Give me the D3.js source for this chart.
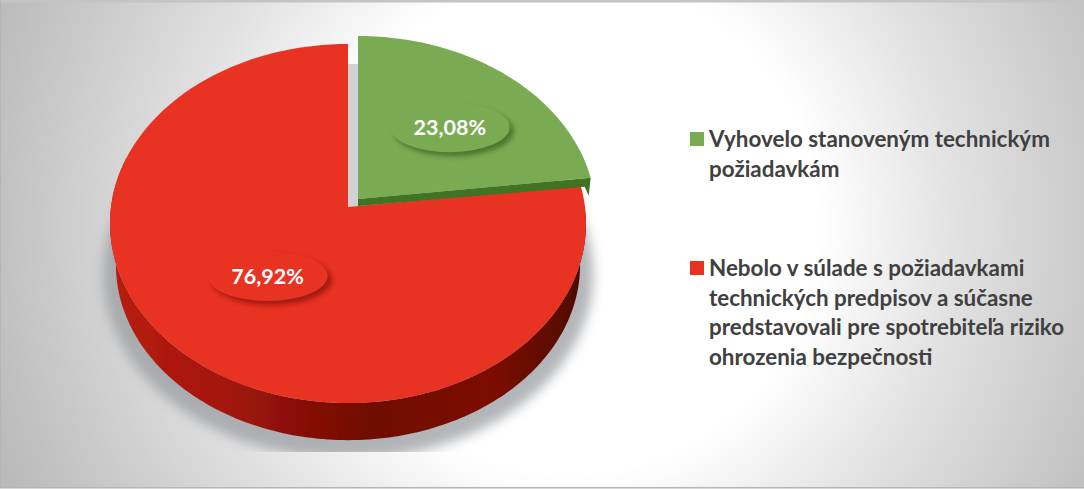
<html>
  <head>
    <meta charset="utf-8">
    <title>Pie</title>
    <script src="https://cdn.jsdelivr.net/npm/d3@7"></script>
    <style>
      body { margin: 0; background: #fff; }
      text { font-family: Lato, "Open Sans", sans-serif; font-weight: 700; }
    </style>
  </head>
  <body>
    <svg width="1084" height="490" id="mainsvg" style="display:block"></svg>
    <script>
        // data
        const categories = ['Vyhovelo', 'Nebolo'];
        const values = [23.08, 76.92];
        const valueLabels = ['23,08%', '76,92%'];
        const legendLines = [
            ['Vyhovelo stanoveným technickým', 'požiadavkám'],
            ['Nebolo v súlade s požiadavkami', 'technických predpisov a súčasne', 'predstavovali pre spotrebiteľa riziko', 'ohrozenia bezpečnosti']
        ];

        const svg = d3.select('#mainsvg');
        const width = +svg.attr('width');
        const height = +svg.attr('height');

        const topColor = d3.scaleOrdinal().domain(categories).range(['#7aab52', '#e83222']);

        // perspective tilt of the pie
        const rx = 237, ry = 178, persp = 0.092;
        const apex = { Vyhovelo: [358, 199], Nebolo: [348, 207] };
        const labelPos = { Vyhovelo: 0.56, Nebolo: 0.5 };
        const labelNudge = { Vyhovelo: 7, Nebolo: 1 };

        // angle is measured clockwise from 12 o'clock, r is 0..1
        const project = function(a, r, c, shrink = 1, dy = 0){
            const u = Math.sin(a) * r, v = Math.cos(a) * r;
            const s = 1 / (1 + persp * v);
            return [c[0] + rx * shrink * u * s, c[1] + dy - ry * shrink * v * s];
        };
        const arcPts = function(a0, a1, c, shrink, dy){
            const n = Math.ceil((a1 - a0) / 0.02);
            return d3.range(n + 1).map(i => project(a0 + (a1 - a0) * i / n, 1, c, shrink, dy));
        };
        const line = d3.line().curve(d3.curveLinear);
        const closed = pts => line(pts) + 'Z';

        const pie = d3.pie().sortValues(null)(values);
        const slices = pie.map((d, i) => ({ name: categories[i], label: valueLabels[i], a0: d.startAngle, a1: d.endAngle }));

        const defs = svg.append('defs');
        const bg = defs.append('radialGradient').attr('id', 'bg')
            .attr('gradientUnits', 'userSpaceOnUse')
            .attr('cx', 570).attr('cy', 225).attr('r', 620);
        [[0, '#ffffff'], [0.4, '#ffffff'], [0.62, '#e2e2e2'], [0.95, '#bebebe'], [1, '#bababa']].forEach(s => {
            bg.append('stop').attr('offset', s[0]).attr('stop-color', s[1]);
        });
        const side = defs.append('linearGradient').attr('id', 'side')
            .attr('gradientUnits', 'userSpaceOnUse')
            .attr('x1', 108).attr('y1', 0).attr('x2', 585).attr('y2', 0);
        [[0, '#b81d12'], [0.25, '#a31509'], [0.55, '#6f0a04'], [0.8, '#7c0d06'], [1, '#4d0602']].forEach(s => {
            side.append('stop').attr('offset', s[0]).attr('stop-color', s[1]);
        });
        defs.append('filter').attr('id', 'blur').attr('x', '-20%').attr('y', '-20%').attr('width', '140%').attr('height', '140%')
            .append('feGaussianBlur').attr('stdDeviation', 6);
        defs.append('filter').attr('id', 'blurS').attr('x', '-20%').attr('y', '-40%').attr('width', '140%').attr('height', '180%')
            .append('feGaussianBlur').attr('stdDeviation', 2.5);
        defs.append('filter').attr('id', 'soft').append('feGaussianBlur').attr('stdDeviation', 0.6);
        defs.append('clipPath').attr('id', 'shadowClip').append('rect')
            .attr('x', 0).attr('y', 0).attr('width', width).attr('height', 452);

        // background and frame
        svg.append('rect').attr('width', width).attr('height', 487).attr('fill', 'url(#bg)');
        svg.append('rect').attr('width', width).attr('height', 2.5).attr('fill', '#c4c4c4');
        svg.append('rect').attr('width', 1).attr('height', 487).attr('fill', '#b5b5b5');
        svg.append('rect').attr('y', 487).attr('width', width).attr('height', 1.5).attr('fill', '#b5b5b5');

        const red = slices[1], green = slices[0];
        const cRed = apex[red.name], cGreen = apex[green.name];

        // soft shadow behind the pie
        const wholeLow = arcPts(0, 2 * Math.PI, cRed, 1.03, 50);
        svg.append('g').attr('clip-path', 'url(#shadowClip)').append('path')
            .attr('d', closed(wholeLow))
            .attr('fill', '#9a9da2').attr('opacity', 0.75)
            .attr('filter', 'url(#blur)');
        // grey strip seen through the gap between the wedges
        svg.append('path')
            .attr('d', closed([[cRed[0], 64], [cGreen[0] + 6, 64], [cGreen[0] + 6, 207], [cRed[0], 207]]))
            .attr('fill', '#d2d2d2');

        // red side wall (front half only), then its top
        const g = svg.append('g').attr('filter', 'url(#soft)');
        const wall0 = 1.6, wall1 = 5.0;
        const frontTop = arcPts(wall0, wall1, cRed, 1, 0);
        const frontLow = arcPts(wall0, wall1, cRed, 0.975, 42);
        g.append('path').attr('d', closed(frontTop.concat(frontLow.slice().reverse())))
            .attr('fill', 'url(#side)');
        g.append('path').attr('d', closed([cRed].concat(arcPts(red.a0, red.a1, cRed, 1, 0))))
            .attr('fill', topColor(red.name));

        // green wedge: thin dark wall along the front edge, then the top
        const greenEdgeEnd = project(green.a1, 1, cGreen);
        g.append('path')
            .attr('d', closed([cGreen, greenEdgeEnd, [greenEdgeEnd[0] - 2, greenEdgeEnd[1] + 18], [greenEdgeEnd[0] - 6, greenEdgeEnd[1] + 9], [cGreen[0], cGreen[1] + 7]]))
            .attr('fill', '#3f7323');
        g.append('path').attr('d', closed([cGreen].concat(arcPts(green.a0, green.a1, cGreen, 1, 0))))
            .attr('fill', topColor(green.name));

        // value badges
        slices.forEach(d => {
            const mid = (d.a0 + d.a1) / 2;
            const p = project(mid, labelPos[d.name], apex[d.name]);
            p[0] += labelNudge[d.name];
            const dark = d.name === 'Vyhovelo' ? '#3c6a22' : '#8e120a';
            svg.append('ellipse').attr('cx', p[0] + 4).attr('cy', p[1] + 4).attr('rx', 60).attr('ry', 25)
                .attr('fill', dark).attr('opacity', 0.8).attr('filter', 'url(#blurS)');
            svg.append('ellipse').attr('cx', p[0]).attr('cy', p[1]).attr('rx', 60).attr('ry', 25)
                .attr('fill', topColor(d.name));
            svg.append('text').attr('x', p[0]).attr('y', p[1] + 8)
                .attr('text-anchor', 'middle').attr('fill', '#ffffff')
                .attr('font-size', 21.5).text(d.label);
        });

        // legend
        const legendTop = d3.scalePoint().domain(categories).range([147, 276]);
        const lineGap = 29.5;
        categories.forEach((name, i) => {
            const y0 = legendTop(name);
            svg.append('rect').attr('x', 690).attr('y', y0 - 15).attr('width', 14).attr('height', 14)
                .attr('fill', topColor(name));
            legendLines[i].forEach((t, j) => {
                svg.append('text').attr('x', 709).attr('y', y0 + j * lineGap)
                    .attr('fill', '#404040').attr('font-size', 22.4).text(t);
            });
        });
    </script>
  </body>
</html>
